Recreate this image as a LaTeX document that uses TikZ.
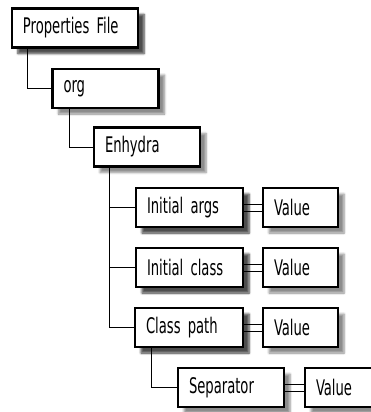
\documentclass[tikz,border=0pt]{standalone}
\usepackage{fontspec}
\setmainfont{DejaVu Sans Condensed}[FakeStretch=0.68]
\usepackage{tikz}
\usetikzlibrary{shadows.blur}
\usetikzlibrary{calc}

\tikzset{
  propbox/.style = {rectangle, draw, line width = 2.3pt, fill = white, minimum height = 39,
    inner xsep = 11, text width = #1, align = left, font = \fontsize{21.5}{22}\selectfont,
    blur shadow = {shadow xshift = 6pt, shadow yshift = -6pt, shadow blur steps = 6, shadow opacity = 45}},
  propbox/.default = 84,
  link/.style = {line width = 0.9pt},
}

\begin{document}
\begin{tikzpicture}[x = 1pt, y = -1pt]
		\useasboundingbox (0, 0) rectangle (371, 412);

		\begin{scope}[every node/.style={propbox}]
		\node (props) [propbox = 104] at (75, 28) {Properties File};
		\node (org) at (105.5, 88.5) {org};
		\node (enhydra) at (147, 147) {Enhydra};
		\node (initargs) [propbox = 85] at (189.5, 207.5) {Initial args};
		\node (initclass) [propbox = 85] at (189.5, 267.5) {Initial class};
		\node (classpath) [propbox = 86] at (189, 327.5) {Class path};
		\node (separator) at (231, 387.5) {Separator};
		\end{scope}

		\begin{scope}[every node/.style={propbox = 53}]
		\node (val1) at (300.5, 207.5) {Value};
		\node (val2) at (300.5, 267.5) {Value};
		\node (val3) at (300.5, 327.5) {Value};
		\node (val4) at (342.5, 387.5) {Value};
		\end{scope}

		% tree connectors
		\draw [link] ([xshift = 17]props.south west) |- (org.west);
		\draw [link] ([xshift = 18]org.south west) |- (enhydra.west);
		\draw [link] ([xshift = 17]enhydra.south west) |- (initargs.west);
		\draw [link] ([xshift = 17]enhydra.south west) |- (initclass.west);
		\draw [link] ([xshift = 17]enhydra.south west) |- (classpath.west);
		\draw [link] ([xshift = 18]classpath.south west) |- (separator.west);

		% key = value pairs
		\foreach \key/\val in {initargs/val1, initclass/val2, classpath/val3, separator/val4} {
		\draw [link] ($(\key.east) + (0, -3.5)$) -- ($(\val.west) + (0, -3.5)$);
		\draw [link] ($(\key.east) + (0, 3.5)$) -- ($(\val.west) + (0, 3.5)$);
		}
		\end{tikzpicture}
\end{document}
